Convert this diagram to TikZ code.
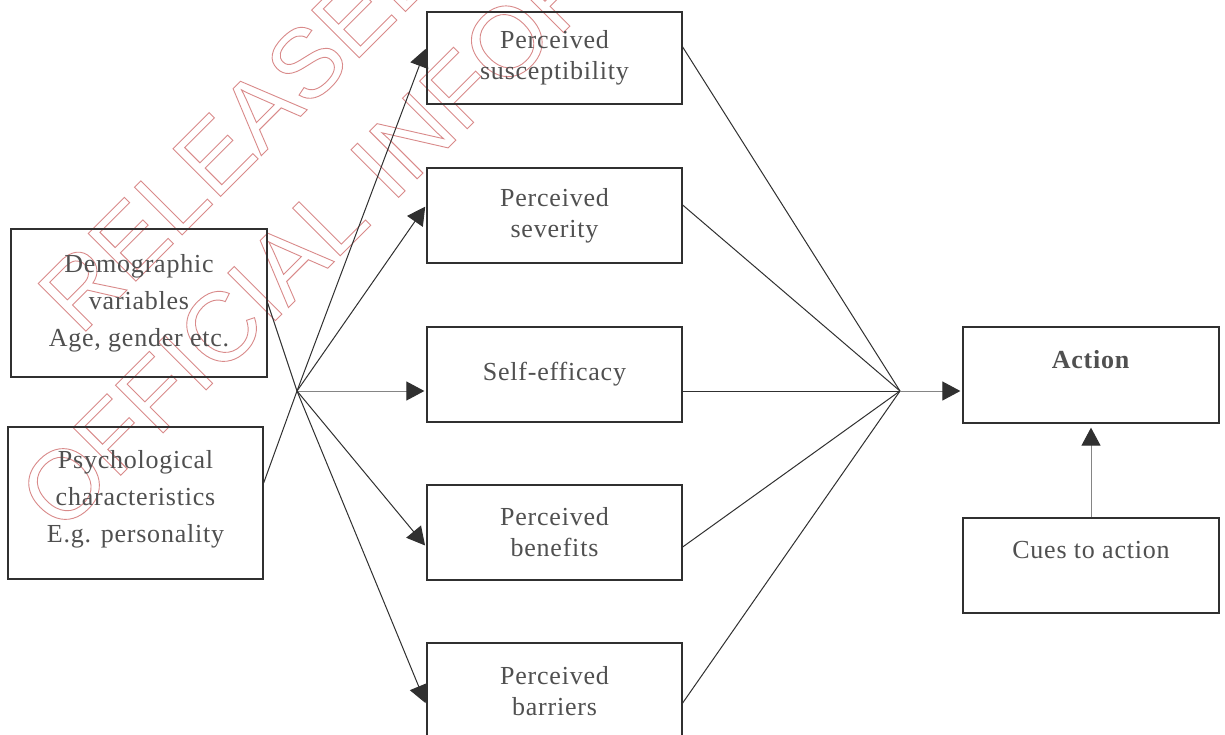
\documentclass[tikz,border=0pt]{standalone}
\usepackage{fontspec}
\setmainfont{Liberation Serif}[LetterSpace=3]
\newfontfamily\wmfont{Liberation Sans}
\usetikzlibrary{arrows.meta}
\definecolor{boxline}{HTML}{303030}
\definecolor{lightline}{HTML}{858585}
\definecolor{txt}{HTML}{505050}
\definecolor{wmred}{HTML}{D98A8A}
\newcommand{\outlinetxt}[1]{\special{pdf:literal direct 1 Tr 0.9 w}#1\special{pdf:literal direct 0 Tr}}
\tikzset{
  box/.style={draw=boxline, line width=1.3pt, minimum width=256pt, inner sep=0pt,
    align=center, text=txt, font=\fontsize{26}{31}\selectfont},
  conn/.style={draw=boxline, line width=1pt},
  arr/.style={conn, shorten >=2pt, -{Triangle[length=18pt,width=19pt,color=boxline]}},
  arrlight/.style={arr, draw=lightline},
  wmtext/.style={font=\wmfont\fontsize{98}{98}\selectfont, text=wmred, inner sep=0pt,
    anchor=base west, rotate=45},
}
\begin{document}
\begin{tikzpicture}[x=1pt,y=-1pt]
\useasboundingbox (0,0) rectangle (1225,735);
\fill[white] (0,0) rectangle (1225,735);
\clip (0,0) rectangle (1225,735);

% watermark
\node[wmtext] (wm1) at (80,337) {\outlinetxt{RELEASED UNDER THE}};
\node[wmtext] (wm2) at (61,535) {\outlinetxt{OFFICIAL INFORMATION ACT}};

% left boxes
\node[box, minimum height=148pt, font=\fontsize{26}{37}\selectfont] (demo) at (139,303)
  {Demographic\\variables\\Age, gender etc.};
\node[box, minimum height=152pt, minimum width=255pt, font=\fontsize{26}{37}\selectfont] (psych) at (135.5,503)
  {Psychological\\characteristics\\E.g. personality\\[-23pt]\mbox{}};

% middle boxes
\node[box, minimum height=92pt, minimum width=255pt] (sus) at (554.5,58) {Perceived\\susceptibility};
\node[box, minimum height=95pt, minimum width=255pt] (sev) at (554.5,215.5) {Perceived\\severity};
\node[box, minimum height=95pt, minimum width=255pt] (self) at (554.5,374.5) {Self-efficacy};
\node[box, minimum height=95pt, minimum width=255pt] (ben) at (554.5,532.5) {Perceived\\benefits};
\node[box, minimum height=96pt, minimum width=255pt] (bar) at (554.5,691) {Perceived\\barriers};

% right boxes
\node[box, minimum height=96pt] (action) at (1091,375) {\textbf{Action}\\\mbox{}};
\node[box, minimum height=95pt] (cues) at (1091,565.5) {Cues to action\\\mbox{}};

% hubs
\coordinate (hubL) at (297,391);
\coordinate (hubR) at (900,391);

% inputs to left hub
\draw[conn] (demo.east) -- (hubL);
\draw[conn] ([yshift=20pt]psych.east) -- (hubL);

% left hub to middle boxes
\draw[arr] (hubL) -- ([yshift=11pt]sus.west);
\draw[arr] (hubL) -- ([yshift=10.5pt]sev.west);
\draw[arrlight] (hubL) -- ([yshift=-16.5pt]self.west);
\draw[arr] (hubL) -- ([yshift=-14.5pt]ben.west);
\draw[arr] (hubL) -- ([yshift=-14pt]bar.west);

% middle boxes to right hub
\draw[conn] ([yshift=11pt]sus.east) -- (hubR);
\draw[conn] ([yshift=10.5pt]sev.east) -- (hubR);
\draw[conn] ([yshift=-16.5pt]self.east) -- (hubR);
\draw[conn] ([yshift=-14.5pt]ben.east) -- (hubR);
\draw[conn] ([yshift=-12pt]bar.east) -- (hubR);

% right hub to action, cues to action
\draw[arrlight] (hubR) -- ([yshift=-16pt]action.west);
\draw[arrlight, shorten >=4pt] (cues.north) -- (action.south);
\end{tikzpicture}
\end{document}
